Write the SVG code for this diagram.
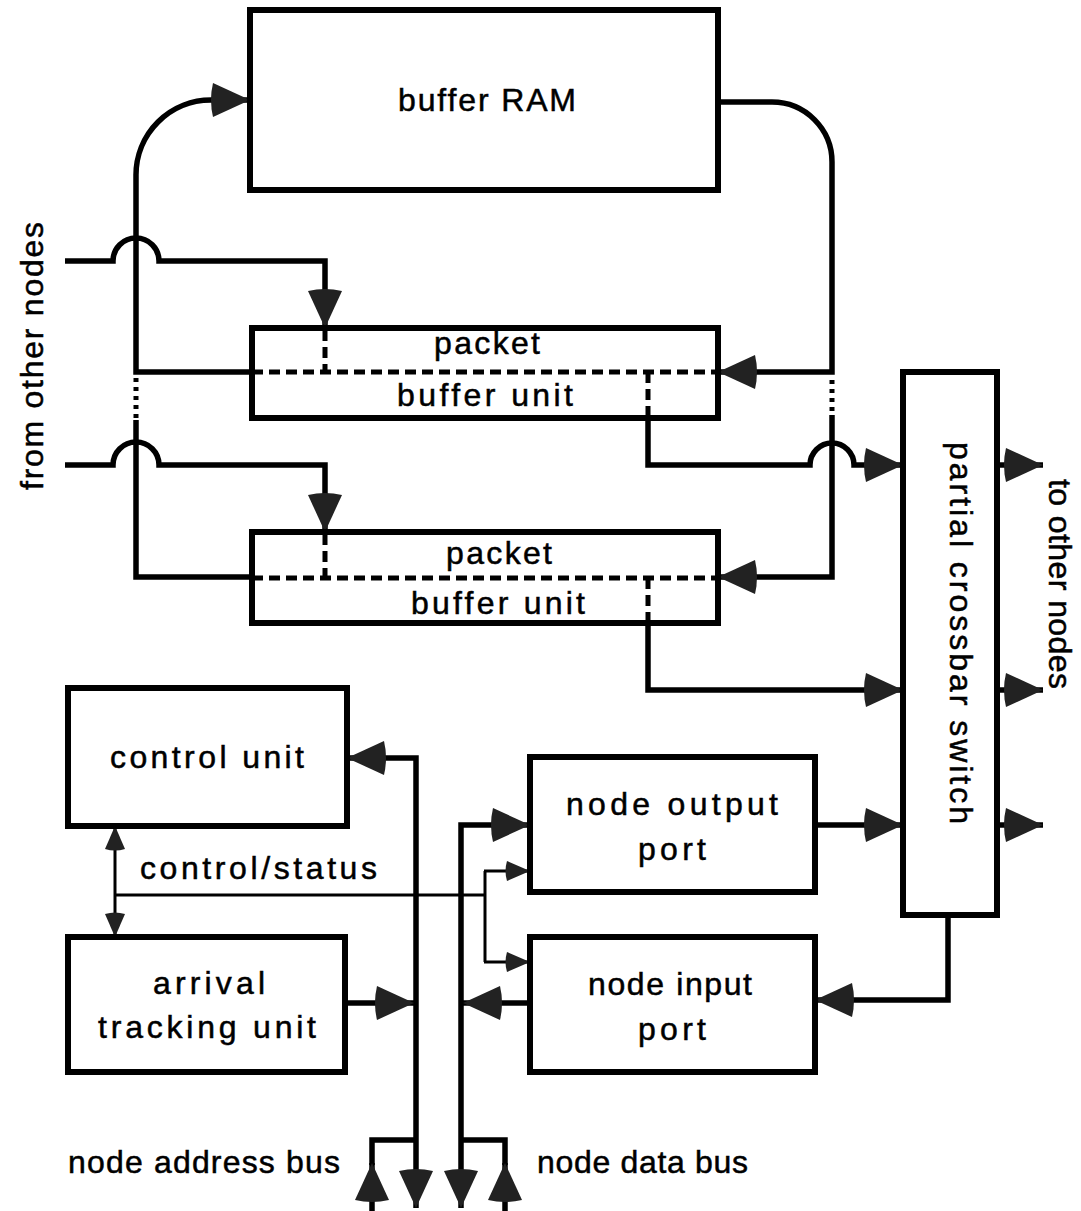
<svg xmlns="http://www.w3.org/2000/svg" width="1081" height="1211" viewBox="0 0 1081 1211">
  <defs>
    <style>
      .box { fill: none; stroke: #000; stroke-width: 6; }
      .w { fill: none; stroke: #000; stroke-width: 5.5; stroke-linejoin: miter; }
      .thin { fill: none; stroke: #000; stroke-width: 3; }
      .dash { fill: none; stroke: #000; stroke-width: 5; stroke-dasharray: 11 6; }
      .dot { fill: none; stroke: #000; stroke-width: 5; stroke-dasharray: 4 5; }
      text { font-family: "Liberation Sans", Arial, Helvetica, sans-serif; font-size: 32px; fill: #000; stroke: #000; stroke-width: 0.5; }
      .c { text-anchor: middle; }
    </style>
    <marker id="ah" markerUnits="userSpaceOnUse" markerWidth="42" markerHeight="36" viewBox="0 0 42 36" refX="40" refY="18" orient="auto-start-reverse">
      <path d="M3,1 L40,18 L3,35 Q-1,18 3,1 Z" fill="#222"/>
    </marker>
    <marker id="as" markerUnits="userSpaceOnUse" markerWidth="26" markerHeight="22" viewBox="0 0 26 22" refX="25" refY="11" orient="auto-start-reverse">
      <path d="M2,1 L25,11 L2,21 Q-1,11 2,1 Z" fill="#222"/>
    </marker>
  </defs>

  <!-- connectors -->
  <g id="connectors">
    <!-- loop from buffer units into buffer RAM -->
    <path class="w" d="M252,372 H136 V175 A75,75 0 0 1 211,100 H250" marker-end="url(#ah)"/>
    <path class="dot" d="M136,378 V420"/>
    <path class="w" d="M252,577 H136 V420"/>
    <!-- inputs from other nodes, hopping over the loop -->
    <path class="w" d="M65,261 H113 A23,23 0 0 1 159,261 H325 V328" marker-end="url(#ah)"/>
    <path class="w" d="M65,465 H113 A23,23 0 0 1 159,465 H325 V532" marker-end="url(#ah)"/>
    <!-- buffer RAM back to buffer units -->
    <path class="w" d="M718,102 H772 A60,60 0 0 1 832,162 V372 H718" marker-end="url(#ah)"/>
    <path class="dot" d="M832,380 V415"/>
    <path class="w" d="M832,415 V577 H718" marker-end="url(#ah)"/>
    <!-- internal paths through the buffer units -->
    <path class="dash" d="M252,372 H716"/>
    <path class="dash" d="M325,330 V372"/>
    <path class="dash" d="M648,372 V418"/>
    <path class="dash" d="M252,578 H716"/>
    <path class="dash" d="M325,534 V578"/>
    <path class="dash" d="M648,578 V623"/>
    <!-- buffer units to crossbar -->
    <path class="w" d="M648,418 V465 H810 A22,22 0 0 1 854,465 H903" marker-end="url(#ah)"/>
    <path class="w" d="M648,623 V690 H903" marker-end="url(#ah)"/>
    <path class="w" d="M815,825 H903" marker-end="url(#ah)"/>
    <!-- crossbar outputs -->
    <path class="w" d="M997,465 H1043" marker-end="url(#ah)"/>
    <path class="w" d="M997,690 H1043" marker-end="url(#ah)"/>
    <path class="w" d="M997,825 H1043" marker-end="url(#ah)"/>
    <!-- crossbar to node input port -->
    <path class="w" d="M948,915 V1000 H815" marker-end="url(#ah)"/>
    <!-- node address bus -->
    <path class="w" d="M416,1208 V758 H347" marker-start="url(#ah)" marker-end="url(#ah)"/>
    <path class="w" d="M416,1140 H372 V1165"/>
    <path class="w" d="M372,1211 V1163" marker-end="url(#ah)"/>
    <path class="w" d="M345,1003 H414" marker-end="url(#ah)"/>
    <!-- node data bus -->
    <path class="w" d="M461,1208 V825 H530" marker-start="url(#ah)" marker-end="url(#ah)"/>
    <path class="w" d="M461,1140 H505 V1165"/>
    <path class="w" d="M505,1211 V1163" marker-end="url(#ah)"/>
    <path class="w" d="M530,1003 H463" marker-end="url(#ah)"/>
    <!-- control/status -->
    <path class="thin" d="M115,826 V937" marker-start="url(#as)" marker-end="url(#as)"/>
    <path class="thin" d="M115,895 H485"/>
    <path class="thin" d="M485,871 V962"/>
    <path class="thin" d="M484,871 H530" marker-end="url(#as)"/>
    <path class="thin" d="M484,962 H530" marker-end="url(#as)"/>
  </g>

  <!-- nodes -->
  <g id="buffer-ram">
    <rect class="box" x="250" y="10" width="468" height="180"/>
    <text class="c" x="487" y="111" textLength="178">buffer RAM</text>
  </g>
  <g id="packet-buffer-1">
    <rect class="box" x="252" y="328" width="466" height="90"/>
    <text class="c" x="487" y="354" textLength="106">packet</text>
    <text class="c" x="485" y="406" textLength="176">buffer  unit</text>
  </g>
  <g id="packet-buffer-2">
    <rect class="box" x="252" y="532" width="466" height="91"/>
    <text class="c" x="499" y="564" textLength="106">packet</text>
    <text class="c" x="498" y="614" textLength="174">buffer  unit</text>
  </g>
  <g id="crossbar">
    <rect class="box" x="903" y="372" width="94" height="543"/>
    <text class="c" transform="translate(950,633) rotate(90)" textLength="382">partial  crossbar  switch</text>
  </g>
  <g id="control-unit">
    <rect class="box" x="68" y="688" width="279" height="138"/>
    <text class="c" x="207" y="768" textLength="194">control  unit</text>
  </g>
  <g id="arrival-tracking-unit">
    <rect class="box" x="68" y="937" width="277" height="135"/>
    <text class="c" x="209" y="994" textLength="112">arrival</text>
    <text class="c" x="207" y="1038" textLength="218">tracking  unit</text>
  </g>
  <g id="node-output-port">
    <rect class="box" x="530" y="757" width="285" height="135"/>
    <text class="c" x="672" y="815" textLength="212">node output</text>
    <text class="c" x="672" y="860" textLength="68">port</text>
  </g>
  <g id="node-input-port">
    <rect class="box" x="530" y="937" width="285" height="135"/>
    <text class="c" x="670" y="995" textLength="164">node input</text>
    <text class="c" x="672" y="1040" textLength="68">port</text>
  </g>

  <!-- edge labels -->
  <g id="labels">
    <text x="140" y="879" textLength="237">control/status</text>
    <text x="68" y="1173" textLength="272">node address bus</text>
    <text x="537" y="1173" textLength="211">node data bus</text>
    <text class="c" transform="translate(43,356) rotate(-90)" textLength="268">from other nodes</text>
    <text class="c" transform="translate(1049,584) rotate(90)" textLength="210">to other nodes</text>
  </g>
</svg>
